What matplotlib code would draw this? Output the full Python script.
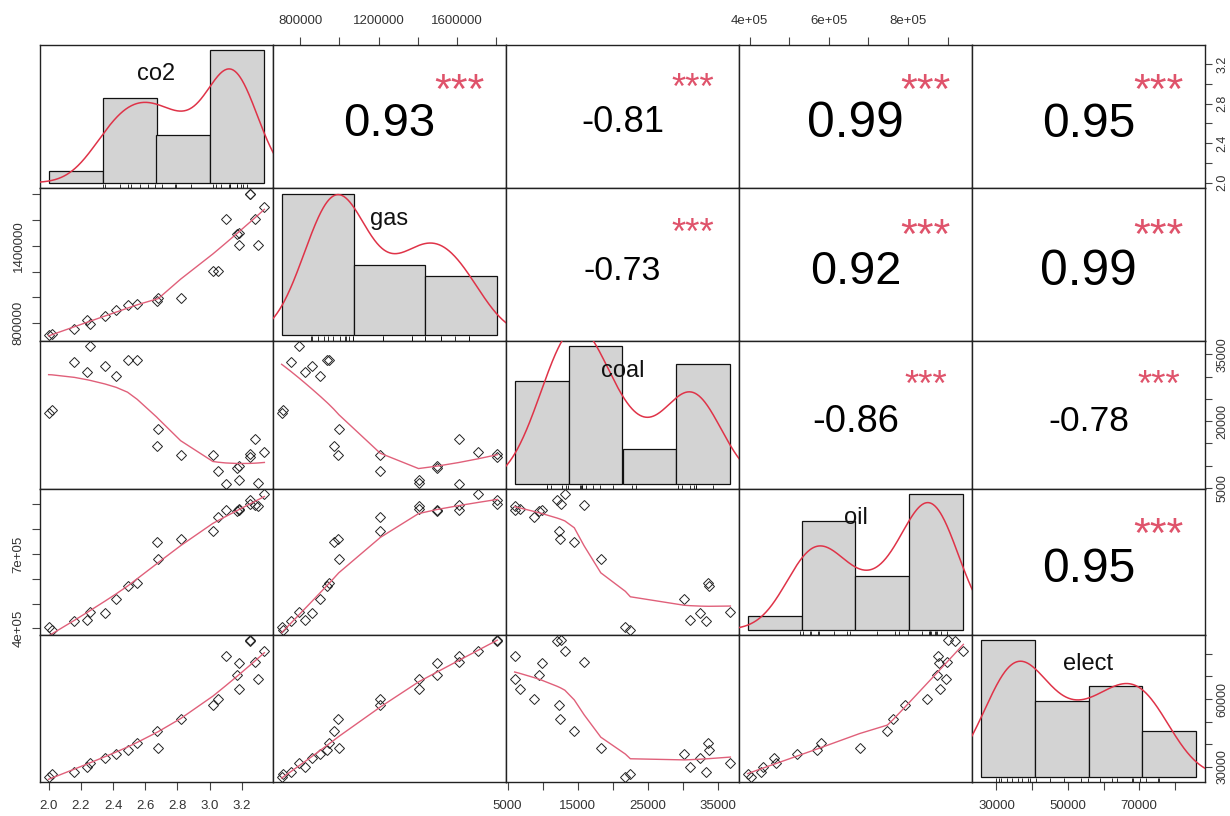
import numpy as np
import matplotlib
matplotlib.use("Agg")
import matplotlib.pyplot as plt
from matplotlib.transforms import blended_transform_factory

plt.rcParams["font.family"] = ["Liberation Sans", "DejaVu Sans"]

# --- data: yearly observations ---
names = ["co2", "gas", "coal", "oil", "elect"]

co2 = [2.00, 2.02, 2.16, 2.24, 2.26, 2.35, 2.42, 2.49, 2.55, 2.67, 2.68, 2.82,
       3.02, 3.05, 3.10, 3.17, 3.18, 3.18, 3.25, 3.25, 3.28, 3.30, 3.34]
gas = [705e3, 713e3, 751e3, 822e3, 792e3, 859e3, 903e3, 938e3, 946e3, 970e3, 996e3, 993e3,
       1205e3, 1207e3, 1608e3, 1495e3, 1498e3, 1403e3, 1805e3, 1803e3, 1608e3, 1403e3, 1705e3]
coal = [21780, 22490, 33240, 30950, 36740, 32470, 30200, 33680, 33620, 14500, 18280, 12490,
        12330, 8750, 6000, 9530, 9950, 6700, 12030, 12580, 15900, 6050, 13150]
oil = [404e3, 395e3, 430e3, 434e3, 466e3, 462e3, 519e3, 570e3, 581e3, 748e3, 678e3, 762e3,
       793e3, 847e3, 877e3, 874e3, 878e3, 881e3, 918e3, 901e3, 899e3, 895e3, 940e3]
elect = [25575, 26770, 27500, 29700, 31500, 34000, 35500, 37400, 40500, 45900, 38400, 51100,
         57400, 59900, 79000, 70600, 76200, 64400, 85600, 86000, 76500, 68800, 81300]

# histogram breaks for the diagonal
co2_breaks = [1.5, 2.0, 2.5, 3.0, 3.5]
gas_breaks = [500e3, 1000e3, 1500e3, 2000e3]
coal_breaks = [0, 10000, 20000, 30000, 40000]
oil_breaks = [200e3, 400e3, 600e3, 800e3, 1000e3]
elect_breaks = [20000, 40000, 60000, 80000, 100000]

# upper triangle, row by row: pearson r and significance
corr_vals = [0.93, -0.81, 0.99, 0.95, -0.73, 0.92, 0.99, -0.86, -0.78, 0.95]
corr_stars = ["***"] * 10

# axis ticks
co2_ticks = [2.0, 2.2, 2.4, 2.6, 2.8, 3.0, 3.2]
co2_bottom = ["2.0", "2.2", "2.4", "2.6", "2.8", "3.0", "3.2"]
co2_right = ["2.0", "", "2.4", "", "2.8", "", "3.2"]
gas_ticks = [800e3, 1000e3, 1200e3, 1400e3, 1600e3, 1800e3]
gas_top = ["800000", "", "1200000", "", "1600000", ""]
gas_left = ["800000", "", "", "1400000", "", ""]
coal_ticks = [5000, 10000, 15000, 20000, 25000, 30000, 35000]
coal_bottom = ["5000", "", "15000", "", "25000", "", "35000"]
coal_right = ["5000", "", "", "20000", "", "", "35000"]
oil_ticks = [4e5, 5e5, 6e5, 7e5, 8e5, 9e5]
oil_top = ["4e+05", "", "6e+05", "", "8e+05", ""]
oil_left = ["4e+05", "", "", "7e+05", "", ""]
elect_ticks = [30000, 40000, 50000, 60000, 70000, 80000]
elect_bottom = ["30000", "", "50000", "", "70000", ""]
elect_right = ["30000", "", "", "60000", "", ""]

data = [co2, gas, coal, oil, elect]
breaks = [co2_breaks, gas_breaks, coal_breaks, oil_breaks, elect_breaks]
ticks = [co2_ticks, gas_ticks, coal_ticks, oil_ticks, elect_ticks]
bottom_labels = {0: co2_bottom, 2: coal_bottom, 4: elect_bottom}
top_labels = {1: gas_top, 3: oil_top}
left_labels = {1: gas_left, 3: oil_left}
right_labels = {0: co2_right, 2: coal_right, 4: elect_right}

RED = "#DF3348"
STAR = "#DF536B"


def padded(v):
    lo, hi = min(v), max(v)
    d = 0.04 * (hi - lo)
    return lo - d, hi + d


def lowess(x, y, f=2 / 3, iters=3):
    x = np.asarray(x, float)
    y = np.asarray(y, float)
    o = np.argsort(x, kind="stable")
    x, y = x[o], y[o]
    n = len(x)
    ns = max(2, min(n, int(f * n + 1e-7)))
    h = np.array([np.sort(np.abs(x - xi))[ns - 1] for xi in x])
    u = np.abs(x[None, :] - x[:, None]) / h[:, None]
    w = np.where(u < 1, (1 - np.clip(u, 0, 1) ** 3) ** 3, 0.0)
    rob = np.ones(n)
    fit = np.zeros(n)
    for _ in range(iters + 1):
        for i in range(n):
            wi = w[i] * rob
            sw = wi.sum()
            xm = (wi * x).sum() / sw
            ym = (wi * y).sum() / sw
            sxx = (wi * (x - xm) ** 2).sum()
            b = (wi * (x - xm) * (y - ym)).sum() / sxx if sxx > 0 else 0.0
            fit[i] = ym + b * (x[i] - xm)
        res = y - fit
        cmad = 6 * np.median(np.abs(res))
        if cmad == 0:
            break
        r = np.abs(res) / cmad
        rob = np.where(r < 1, (1 - r ** 2) ** 2, 0.0)
    return x, fit


def kde(v):
    v = np.asarray(v, float)
    n = len(v)
    q75, q25 = np.percentile(v, [75, 25])
    bw = 0.9 * min(np.std(v, ddof=1), (q75 - q25) / 1.34) * n ** -0.2
    g = np.linspace(v.min() - 3 * bw, v.max() + 3 * bw, 512)
    d = np.exp(-0.5 * ((g[:, None] - v[None, :]) / bw) ** 2).sum(1) / (n * bw * np.sqrt(2 * np.pi))
    return g, d


def em_width(txt):
    w = {".": 0.278, "-": 0.333}
    return sum(w.get(c, 0.556) for c in txt)


fig = plt.figure(figsize=(12.3, 8.16), dpi=100)
gs = fig.add_gridspec(5, 5, left=40 / 1230, right=1205 / 1230, top=1 - 45 / 816,
                      bottom=1 - 782 / 816, wspace=0, hspace=0,
                      height_ratios=[143, 153, 148, 146, 147])

k = 0
for i in range(5):
    for j in range(5):
        ax = fig.add_subplot(gs[i, j])
        ax.set_xlim(padded(data[j]))
        ax.set_ylim(padded(data[i]))
        for s in ax.spines.values():
            s.set_linewidth(1.0)
            s.set_color("#222222")
        ax.tick_params(length=0, labelbottom=False, labelleft=False)
        ax.set_xticks([])
        ax.set_yticks([])
        tp = dict(length=6, width=0.8, color="#444444", labelsize=9.5,
                  labelcolor="#333333", pad=7)

        # outer axes alternate between sides, as in pairs()
        if i == 4 and j in bottom_labels:
            ax.set_xticks(ticks[j], bottom_labels[j])
            ax.tick_params(axis="x", bottom=True, labelbottom=True, **tp)
        if i == 0 and j in top_labels:
            ax.set_xticks(ticks[j], top_labels[j])
            ax.tick_params(axis="x", top=True, labeltop=True, bottom=False,
                           labelbottom=False, **tp)
        if j == 0 and i in left_labels:
            ax.set_yticks(ticks[i], left_labels[i], rotation=90, va="center")
            ax.tick_params(axis="y", left=True, labelleft=True, **dict(tp, pad=5))
        if j == 4 and i in right_labels:
            ax.set_yticks(ticks[i], right_labels[i], rotation=90, va="center")
            ax.tick_params(axis="y", right=True, labelright=True, left=False,
                           labelleft=False, **dict(tp, pad=3, length=5, labelsize=9))

        if i == j:
            v = np.asarray(data[i], float)
            b = np.asarray(breaks[i], float)
            idx = np.clip(np.searchsorted(b, v, side="left") - 1, 0, len(b) - 2)
            counts = np.bincount(idx, minlength=len(b) - 1)
            dens = counts / (len(v) * np.diff(b))
            hax = ax.inset_axes([0, 0, 1, 1])
            hax.set_axis_off()
            hax.bar(b[:-1], dens, width=np.diff(b), align="edge", color="#D3D3D3",
                    edgecolor="#111111", linewidth=0.9)
            span = b[-1] - b[0]
            hax.set_xlim(b[0] - 0.04 * span, b[-1] + 0.04 * span)
            hax.set_ylim(-0.04 * dens.max(), 1.04 * dens.max())
            gx, gy = kde(v)
            hax.plot(gx, gy, color=RED, lw=1.1)
            hax.vlines(v, 0, 0.03, transform=blended_transform_factory(hax.transData, hax.transAxes),
                       color="#111111", lw=0.6)
            hax.text(0.5, 0.80, names[i], transform=hax.transAxes, ha="center",
                     va="center", fontsize=17, color="#111111")
        elif i > j:
            ax.plot(data[j], data[i], ls="none", marker="D", ms=5.0, mfc="none",
                    mec="#222222", mew=0.7)
            sx, sy = lowess(data[j], data[i])
            ax.plot(sx, sy, color="#E0607A", lw=1.0)
        else:
            r = corr_vals[k]
            txt = f"{r:.2f}"
            w = em_width(txt)
            fs = 70.0 * (abs(r) + 0.3) / 1.3 / w
            ax.annotate(txt, xy=(0.5, 0.48), xycoords="axes fraction",
                        xytext=(0, -0.36 * fs), textcoords="offset points",
                        ha="center", va="baseline", fontsize=fs, color="black")
            fs_star = 60.0 / w
            ax.annotate(corr_stars[k], xy=(0.8, 0.77), xycoords="axes fraction",
                        xytext=(0, -0.58 * fs_star), textcoords="offset points",
                        ha="center", va="baseline", fontsize=fs_star, color=STAR)
            k += 1

fig.savefig("out.png", dpi=100)
